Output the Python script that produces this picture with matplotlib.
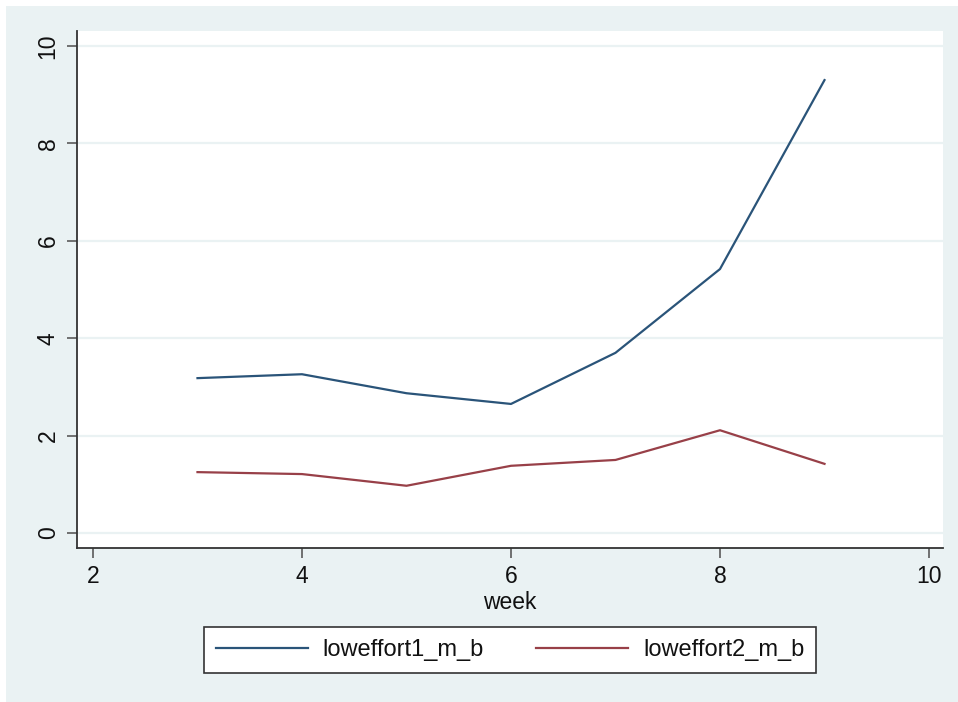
import matplotlib
matplotlib.use('Agg')
import matplotlib.pyplot as plt
from matplotlib.patches import Rectangle

plt.rcParams['font.family'] = ['Liberation Sans', 'DejaVu Sans']

week = [3, 4, 5, 6, 7, 8, 9]
loweffort1_m_b = [3.18, 3.26, 2.87, 2.65, 3.70, 5.42, 9.30]
loweffort2_m_b = [1.25, 1.21, 0.97, 1.38, 1.50, 2.11, 1.42]
xticks = [2, 4, 6, 8, 10]
yticks = [0, 2, 4, 6, 8, 10]

navy = '#2a5479'
maroon = '#984048'
bg = '#eaf2f3'

fig = plt.figure(figsize=(9.58, 7.02), dpi=100, facecolor='white')
# stata-like outer background, behind the axes
fig.patches.append(Rectangle((6 / 958, 0), 1, 1 - 6 / 702, transform=fig.transFigure,
                             facecolor=bg, edgecolor='none', zorder=-10))

ax = fig.add_axes([77 / 958, 1 - 548 / 702, (943 - 77) / 958, (548 - 31) / 702])
ax.set_facecolor('white')

ax.plot(week, loweffort1_m_b, color=navy, lw=1.6, label='loweffort1_m_b')
ax.plot(week, loweffort2_m_b, color=maroon, lw=1.6, label='loweffort2_m_b')

ax.set_xlim(1.847, 10.134)
ax.set_ylim(-0.308, 10.308)
ax.set_xticks(xticks)
ax.set_yticks(yticks)
ax.set_yticklabels([str(v) for v in yticks], rotation=90, va='center')
ax.grid(axis='y', color=bg, lw=1.6)
ax.set_axisbelow(True)

for s in ['top', 'right']:
    ax.spines[s].set_visible(False)
for s in ['left', 'bottom']:
    ax.spines[s].set_color('#333333')
    ax.spines[s].set_linewidth(1.3)

ax.tick_params(axis='both', length=7.5, width=1.3, color='#666666',
               labelsize=16.5, labelcolor='#111111', pad=5)
ax.set_xlabel('week', fontsize=16.5, labelpad=2, color='#111111')

leg = fig.legend(loc='center', bbox_to_anchor=(510 / 958, 1 - 650 / 702), ncol=2,
                 fontsize=17, handlelength=3.9, handletextpad=0.64,
                 columnspacing=2.2, borderpad=0.5, borderaxespad=0, fancybox=False,
                 frameon=True, framealpha=1)
leg.get_frame().set_edgecolor('#333333')
leg.get_frame().set_linewidth(1.2)
for t in leg.get_texts():
    t.set_color('#111111')

fig.savefig('out.png', dpi=100, facecolor=fig.get_facecolor())
